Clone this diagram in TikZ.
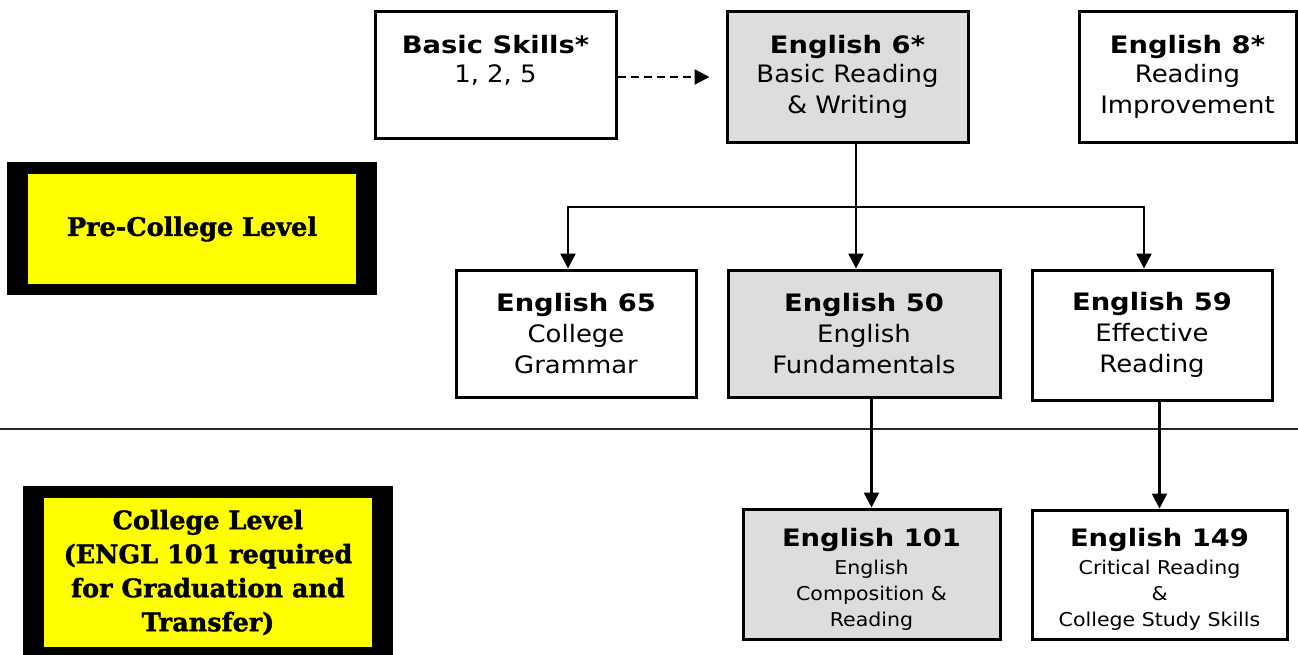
\documentclass[tikz,border=0pt]{standalone}
\usepackage{fontspec}
\setmainfont{DejaVu Sans}[FakeStretch=1.08, BoldFeatures={FakeStretch=1.14}]
\newfontfamily\slabfont{DejaVu Serif}[BoldFeatures={FakeBold=1.5}]
\usetikzlibrary{arrows.meta}
\definecolor{boxgray}{HTML}{DDDDDD}
\definecolor{lvlyellow}{HTML}{FFFF00}
\begin{document}
\begin{tikzpicture}[x=1pt,y=-1pt,
  course/.style={draw=black, line width=3pt, inner sep=0pt, align=center,
    font=\fontsize{24}{31}\selectfont},
  grayfill/.style={fill=boxgray},
  arr/.style={line width=2.5pt, -{Triangle[length=15pt,width=15pt]}},
  dasharr/.style={line width=2.5pt, dash pattern=on 8pt off 5pt,
    -{Triangle[length=15pt,width=15pt]}, shorten >=16pt},
  frame/.style={fill=black, draw=none, inner sep=0pt},
  level/.style={fill=lvlyellow, draw=none, inner sep=0pt, align=center,
    font=\slabfont\bfseries\fontsize{25.5}{34}\selectfont},
  sep/.style={line width=2.5pt, draw=black!85}]
\useasboundingbox (0,0) rectangle (1298,654);

% separator
\coordinate (sepL) at (0,429);
\coordinate (sepR) at (1298,429);
\draw[sep] (sepL) -- (sepR);

% level boxes
\node[frame, minimum width=370pt, minimum height=133pt] (pcf) at (192,228.5) {};
\node[level, minimum width=328pt, minimum height=110pt] (pc) at (192,229) {Pre-College Level};
\node[frame, minimum width=370pt, minimum height=170pt] (clf) at (208,571) {};
\node[level, minimum width=328pt, minimum height=149pt] (cl) at (208,572.5)
  {College Level\\(ENGL 101 required\\for Graduation and\\Transfer)};

% course boxes
\node[course, minimum width=241pt, minimum height=127pt] (bs) at (495.5,74.5)
  {\textbf{Basic Skills*}\\[-2pt]1, 2, 5\\\mbox{}};
\node[course, grayfill, minimum width=241pt, minimum height=131pt] (e6) at (847.5,76.5)
  {\textbf{English 6*}\\[-2pt]Basic Reading\\\& Writing};
\node[course, minimum width=217pt, minimum height=131pt] (e8) at (1187.5,76.5)
  {\textbf{English 8*}\\[-2pt]Reading\\Improvement};
\node[course, minimum width=240pt, minimum height=127pt] (e65) at (576,333.5)
  {\textbf{English 65}\\College\\Grammar};
\node[course, grayfill, minimum width=272pt, minimum height=127pt] (e50) at (864,333.5)
  {\textbf{English 50}\\English\\Fundamentals};
\node[course, minimum width=240pt, minimum height=130pt] (e59) at (1152,335)
  {\textbf{English 59}\\Effective\\Reading};
\node[course, grayfill, minimum width=257pt, minimum height=130pt] (e101) at (871.5,574)
  {\rule{0pt}{28pt}\textbf{English 101}\\[-3pt]\fontsize{19}{26}\selectfont English\\[-5pt]\fontsize{19}{26}\selectfont Composition \&\\[-5pt]\fontsize{19}{26}\selectfont Reading};
\node[course, minimum width=255pt, minimum height=129pt] (e149) at (1159.5,574.5)
  {\rule{0pt}{28pt}\textbf{English 149}\\[-3pt]\fontsize{19}{26}\selectfont Critical Reading\\[-5pt]\fontsize{19}{26}\selectfont \&\\[-5pt]\fontsize{19}{26}\selectfont College Study Skills};

% connectors
\draw[dasharr] (bs.east |- 0,77) -- (e6.west |- 0,77);
\coordinate (br) at (856,207);
\coordinate (bl) at (568,207);
\coordinate (bright) at (1144,207);
\draw[arr] (e6.south -| br) -- (br |- e50.north);
\draw[arr] (br) -- (bl) -- (bl |- e65.north);
\draw[arr] (br) -- (bright) -- (bright |- e59.north);
\draw[arr] (e50.south -| e101.north) -- (e101.north);
\draw[arr] (e59.south -| e149.north) -- (e149.north);
\end{tikzpicture}
\end{document}
